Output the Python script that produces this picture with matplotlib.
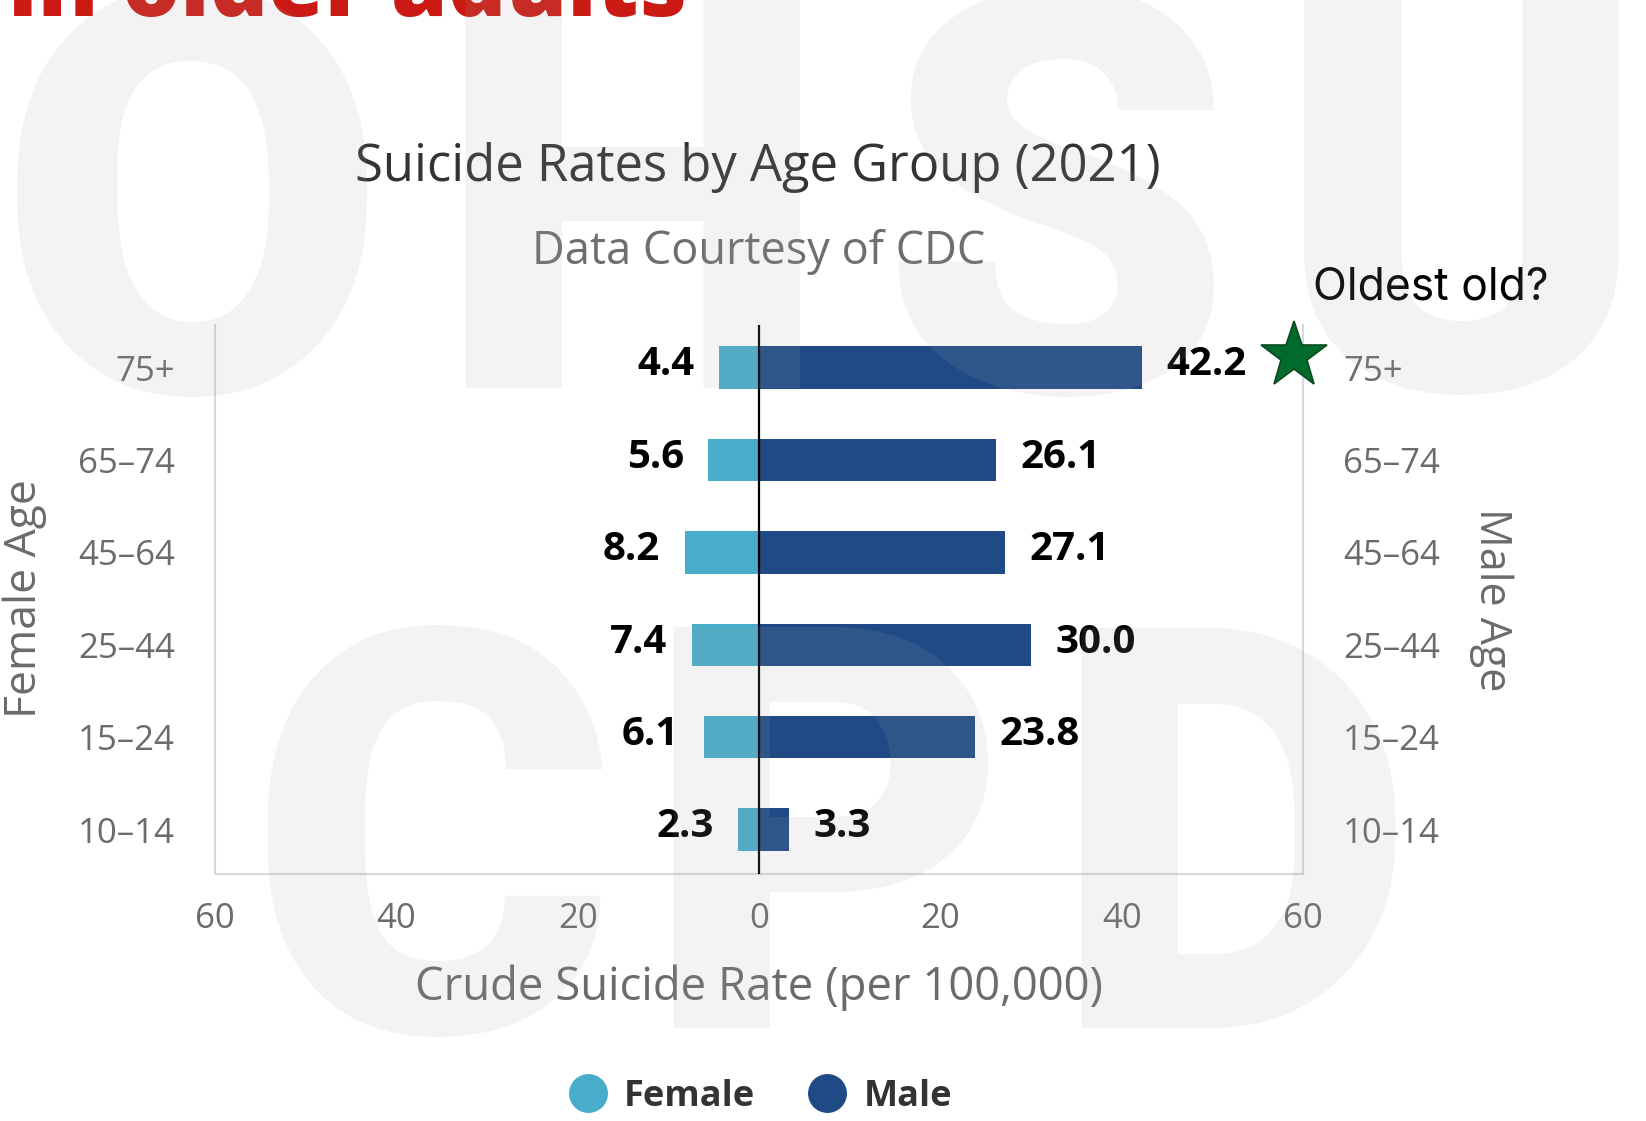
import numpy as np
import matplotlib.pyplot as plt
from matplotlib.lines import Line2D

plt.rcParams['font.family'] = ['Open Sans', 'DejaVu Sans']

# data
age_groups = ['10–14', '15–24', '25–44', '45–64', '65–74', '75+']
female = [2.3, 6.1, 7.4, 8.2, 5.6, 4.4]
male = [3.3, 23.8, 30.0, 27.1, 26.1, 42.2]
x_ticks = [-60, -40, -20, 0, 20, 40, 60]
x_tick_labels = ['60', '40', '20', '0', '20', '40', '60']

female_color = '#48adcb'
male_color = '#1f4a85'
grey_text = '#6b6b6b'

W, H = 1646, 1121
fig = plt.figure(figsize=(W / 100, H / 100), dpi=100)


def fx(px):
    return px / W


def fy(py):
    return 1 - py / H


ax = fig.add_axes([fx(215), fy(874), (1303 - 215) / W, (874 - 325) / H])

y = np.arange(len(age_groups))
ax.barh(y, [-v for v in female], height=0.46, color=female_color)
ax.barh(y, male, height=0.46, color=male_color)
ax.axvline(0, color='black', lw=1.6, zorder=3)

ax.set_xlim(-60, 60)
ax.set_ylim(-0.48, 5.46)

ax.set_xticks(x_ticks)
ax.set_xticklabels(x_tick_labels)
ax.set_yticks(y)
ax.set_yticklabels(age_groups)
ax.tick_params(axis='y', length=0, pad=29, labelsize=25, labelcolor=grey_text,
               labelleft=True, labelright=True)
ax.tick_params(axis='x', length=0, pad=20, labelsize=25, labelcolor=grey_text)

for side in ['left', 'right', 'bottom']:
    ax.spines[side].set_color('#d3d7de')
    ax.spines[side].set_linewidth(1.5)
ax.spines['top'].set_visible(False)

# value labels
for i in range(len(age_groups)):
    ax.text(-female[i] - 2.7, i + 0.03, f'{female[i]:.1f}', ha='right', va='center',
            fontsize=29, fontweight='bold', color='black')
    ax.text(male[i] + 2.7, i + 0.03, f'{male[i]:.1f}', ha='left', va='center',
            fontsize=29, fontweight='bold', color='black')

# star next to the oldest group
ax.plot(59.0, len(age_groups) - 1 + 0.12, marker='*', ms=50, mfc='#006b2d',
        mec='#0b4a1f', mew=1.2, clip_on=False, zorder=5)

ax.set_xlabel('Crude Suicide Rate (per 100,000)', fontsize=32.8, color=grey_text)
ax.xaxis.set_label_coords(0.5, -0.2295)
ax.xaxis.label.set_va('baseline')

ax.set_ylabel('Female Age', fontsize=32, color=grey_text)
ax.yaxis.set_label_coords(-0.1745, 0.502)
ax.yaxis.label.set_va('center')

ax.text(1.1728, 0.499, 'Male Age', transform=ax.transAxes, rotation=-90,
        ha='center', va='center', fontsize=31, color=grey_text)

# titles
fig.text(fx(758), fy(181), 'Suicide Rates by Age Group (2021)', fontsize=36.5,
         color='#333333', ha='center', va='baseline')
fig.text(fx(759), fy(264), 'Data Courtesy of CDC', fontsize=32.5,
         color='#6e6e6e', ha='center', va='baseline')
fig.text(fx(1313), fy(300), 'Oldest old?', fontsize=32, family=['Inter', 'DejaVu Sans'],
         color='black', ha='left', va='baseline')

# slide heading, cut by the top edge
fig.text(fx(8), fy(16), 'in older adults', fontsize=65.5, fontweight='heavy',
         color='#cb1a14', ha='left', va='baseline')

# legend
handles = [
    Line2D([], [], marker='o', ls='', ms=27, color=female_color, label='Female'),
    Line2D([], [], marker='o', ls='', ms=27, color=male_color, label='Male'),
]
fig.legend(handles=handles, loc='center', bbox_to_anchor=(fx(761), fy(1097)), ncol=2,
           frameon=False, prop={'size': 26, 'weight': 'bold'}, labelcolor='#333333',
           handletextpad=0.5, columnspacing=1.5, handlelength=1.0)

# watermark letters laid over everything
wm = dict(fontsize=405, fontweight='black', family='Roboto', color='#a5a5a5',
          alpha=0.13, ha='center', va='baseline', zorder=10)
for ch, cx, base in [('O', 192, 392), ('H', 632, 388), ('S', 1057, 392), ('U', 1462, 390),
                     ('C', 432, 1032), ('P', 826, 1028), ('D', 1232, 1028)]:
    fig.text(fx(cx), fy(base), ch, **wm)

fig.savefig('out.png', dpi=100, facecolor='white')
